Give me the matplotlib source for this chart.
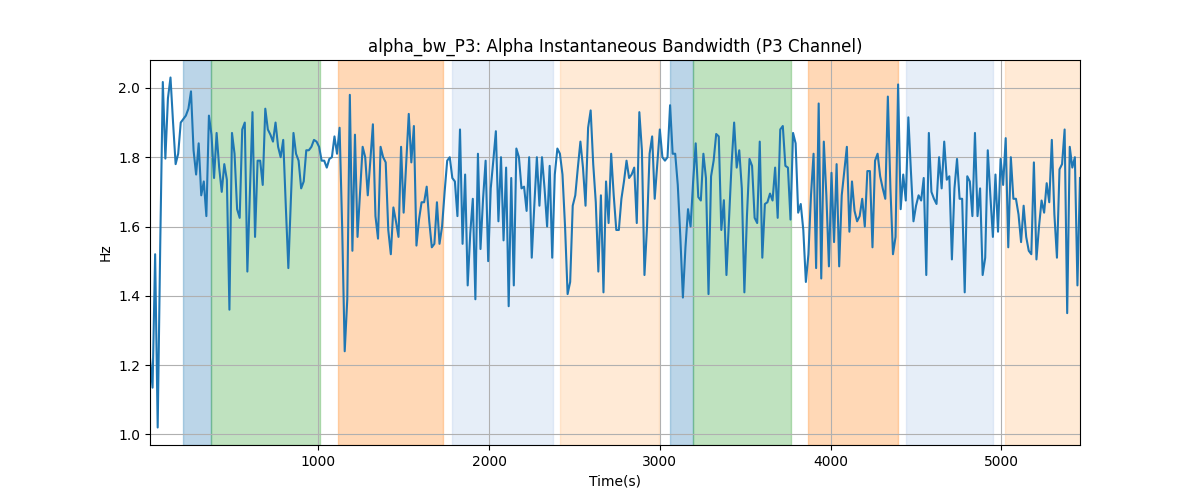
"""
Alpha instantaneous bandwidth, P3 channel, with shaded task segments.
Output: out.png (1200x500px)
"""

import numpy as np
import matplotlib.pyplot as plt

TITLE = "alpha_bw_P3: Alpha Instantaneous Bandwidth (P3 Channel)"

# Sampling of the bandwidth trace (seconds)
T_START = 15
T_STEP = 15

# Bandwidth values (Hz), read left to right
BW_VALUES = [
    1.22, 1.135, 1.52, 1.02, 1.55, 2.017, 1.796, 1.97, 2.03, 1.90,
    1.78, 1.81, 1.90, 1.91, 1.92, 1.94, 1.99, 1.82, 1.75, 1.84,
    1.69, 1.73, 1.63, 1.92, 1.865, 1.74, 1.87, 1.77, 1.70, 1.78,
    1.735, 1.36, 1.87, 1.81, 1.65, 1.625, 1.88, 1.90, 1.47, 1.70,
    1.93, 1.57, 1.79, 1.79, 1.72, 1.94,
    1.88, 1.865, 1.845, 1.90, 1.83, 1.80, 1.85, 1.66, 1.48, 1.68,
    1.87, 1.81, 1.79, 1.71, 1.73, 1.82, 1.82, 1.83, 1.85, 1.845,
    1.83, 1.79, 1.79, 1.77, 1.795, 1.80, 1.86, 1.81, 1.885, 1.60,
    1.24, 1.39, 1.98, 1.53, 1.865, 1.57, 1.70, 1.83, 1.80, 1.69,
    1.79, 1.895, 1.63, 1.565, 1.83,
    1.80, 1.785, 1.59, 1.52, 1.655, 1.615, 1.57, 1.83, 1.64, 1.78,
    1.925, 1.785, 1.89, 1.545, 1.62, 1.67, 1.67, 1.715, 1.615, 1.54,
    1.55, 1.67, 1.55, 1.60, 1.70, 1.79, 1.80, 1.74, 1.73, 1.63,
    1.88, 1.55, 1.75, 1.43, 1.58, 1.68, 1.39, 1.81, 1.535, 1.68,
    1.79, 1.50, 1.71, 1.79, 1.875,
    1.615, 1.80, 1.56, 1.77, 1.37, 1.74, 1.43, 1.825, 1.80, 1.71,
    1.715, 1.645, 1.80, 1.51, 1.66, 1.80, 1.66, 1.80, 1.71, 1.60,
    1.775, 1.51, 1.75, 1.825, 1.81, 1.75, 1.60, 1.405, 1.44, 1.66,
    1.69, 1.77, 1.845, 1.77, 1.66, 1.885, 1.935, 1.78, 1.67, 1.47,
    1.69, 1.41, 1.73, 1.61, 1.81,
    1.69, 1.59, 1.59, 1.68, 1.73, 1.79, 1.74, 1.75, 1.77, 1.61,
    1.93, 1.82, 1.46, 1.60, 1.81, 1.86, 1.68, 1.78, 1.88, 1.80,
    1.79, 1.80, 1.95, 1.81, 1.81, 1.72, 1.57, 1.395, 1.54, 1.65,
    1.60, 1.73, 1.84, 1.685, 1.675, 1.81, 1.74, 1.405, 1.745, 1.79,
    1.867, 1.86, 1.59, 1.676, 1.46,
    1.62, 1.78, 1.90, 1.77, 1.82, 1.71, 1.41, 1.63, 1.795, 1.775,
    1.625, 1.61, 1.845, 1.51, 1.665, 1.67, 1.695, 1.675, 1.77, 1.625,
    1.88, 1.89, 1.775, 1.77, 1.62, 1.87, 1.84, 1.64, 1.665, 1.59,
    1.44, 1.52, 1.69, 1.81, 1.48, 1.955, 1.45, 1.845, 1.69, 1.485,
    1.755, 1.555, 1.78, 1.485, 1.69,
    1.76, 1.83, 1.585, 1.73, 1.645, 1.615, 1.63, 1.68, 1.60, 1.76,
    1.76, 1.54, 1.79, 1.81, 1.745, 1.71, 1.68, 1.975, 1.71, 1.52,
    1.57, 2.01, 1.65, 1.75, 1.675, 1.915, 1.76, 1.615, 1.66, 1.69,
    1.675, 1.74, 1.46, 1.87, 1.70, 1.68, 1.665, 1.80, 1.71, 1.845,
    1.735, 1.745, 1.505, 1.71, 1.795, 1.68,
    1.68, 1.41, 1.745, 1.73, 1.63, 1.87, 1.63, 1.71, 1.46, 1.51,
    1.82, 1.69, 1.57, 1.75, 1.585, 1.795, 1.72, 1.855, 1.54, 1.80,
    1.68, 1.68, 1.635, 1.555, 1.66, 1.57, 1.53, 1.52, 1.785, 1.505,
    1.60, 1.675, 1.64, 1.725, 1.67, 1.85, 1.635, 1.51, 1.765, 1.78,
    1.88, 1.35, 1.83, 1.77, 1.80, 1.43, 1.74,
]

# Shaded segments (seconds) and their colours
SEG_STARTS = [210, 373, 1113, 1784, 2415, 3060, 3195, 3865, 4444, 5018]
SEG_ENDS = [373, 1012, 1729, 2372, 2998, 3195, 3770, 4396, 4953, 5470]
SEG_COLORS = ["tab:blue", "tab:green", "tab:orange", "#aec7e8", "#ffbb78",
              "tab:blue", "tab:green", "tab:orange", "#aec7e8", "#ffbb78"]

bw = np.array(BW_VALUES)
t = T_START + T_STEP * np.arange(len(bw))

fig, ax = plt.subplots(figsize=(12, 5), dpi=100)

for s, e, c in zip(SEG_STARTS, SEG_ENDS, SEG_COLORS):
    ax.axvspan(s, e, color=c, alpha=0.3)

ax.plot(t, bw, color="tab:blue", lw=1.5)

ax.set_xlim(t[0], t[-1])
ax.set_title(TITLE)
ax.set_xlabel("Time(s)")
ax.set_ylabel("Hz")
ax.grid(True)

fig.savefig("out.png", dpi=100)
